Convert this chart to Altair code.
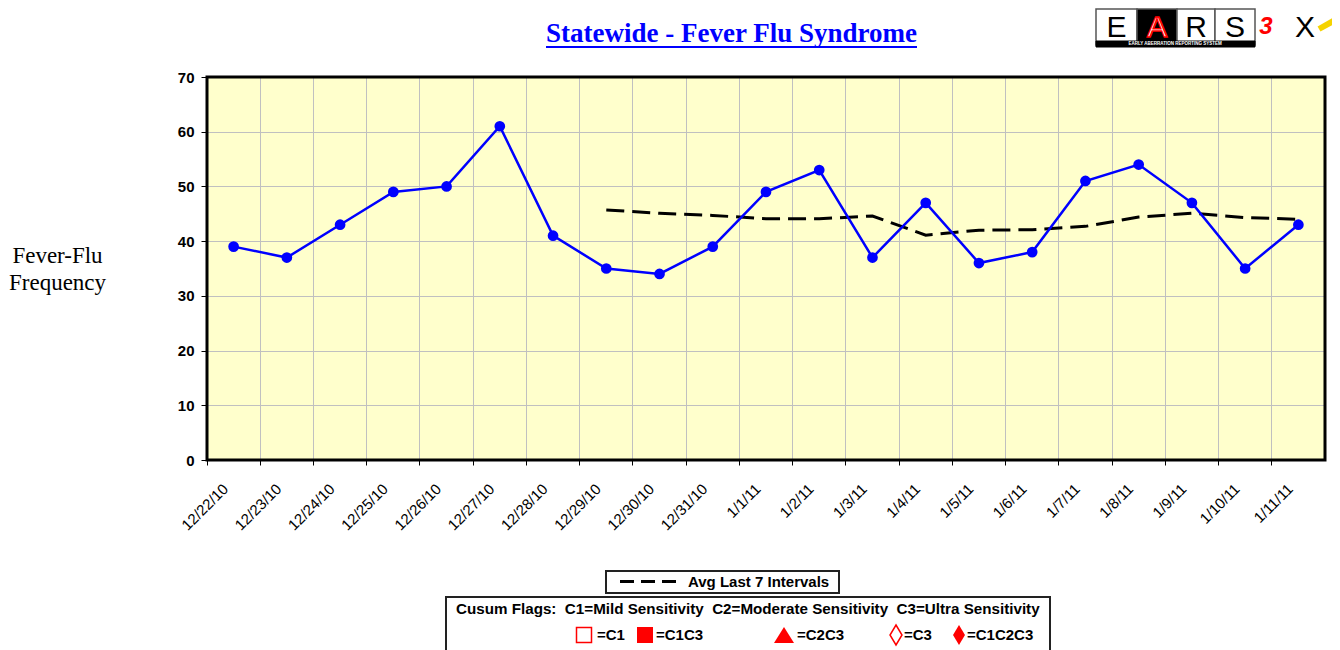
import altair as alt
import pandas as pd

# ---------------- data ----------------
dates = ["12/22/10", "12/23/10", "12/24/10", "12/25/10", "12/26/10", "12/27/10",
         "12/28/10", "12/29/10", "12/30/10", "12/31/10", "1/1/11", "1/2/11",
         "1/3/11", "1/4/11", "1/5/11", "1/6/11", "1/7/11", "1/8/11", "1/9/11",
         "1/10/11", "1/11/11"]
counts = [39, 37, 43, 49, 50, 61, 41, 35, 34, 39, 49, 53, 37, 47, 36, 38, 51, 54, 47, 35, 43]
avg_last7 = [None, None, None, None, None, None, None,
             45.7, 45.1, 44.7, 44.1, 44.1, 44.6, 41.1, 42.0, 42.1, 42.7, 44.4, 45.1, 44.3, 44.0]
y_ticks = [0, 10, 20, 30, 40, 50, 60, 70]

NB = "\u00a0"
title_text = "Statewide - Fever Flu Syndrome"
y_title = ["Fever-Flu", "Frequency"]
legend_line_text = "Avg Last 7 Intervals"
cusum_text = ("Cusum Flags:" + NB + NB + "C1=Mild Sensitivity" + NB + NB +
              "C2=Moderate Sensitivity" + NB + NB + "C3=Ultra Sensitivity")
flag_labels = ["=C1", "=C1C3", "=C2C3", "=C3", "=C1C2C3"]

df = pd.DataFrame({"date": dates, "count": counts})
df_avg = pd.DataFrame({"date": dates, "avg": avg_last7}).dropna()

W, H = 1118, 383
SANS = "Liberation Sans"
SERIF = "Liberation Serif"

x_axis = alt.Axis(
    bandPosition=0, grid=True, gridColor="#c0c0c0", gridWidth=1,
    ticks=True, tickColor="black", tickSize=5, tickWidth=1, domain=False,
    labelAngle=-45, labelAlign="right", labelBaseline="middle",
    labelOffset=-8, labelPadding=21, labelFont=SANS, labelFontSize=15,
    labelColor="black", title=None, labelOverlap=False,
)
x_scale = alt.Scale(type="band", paddingInner=0, paddingOuter=0)

y_axis = alt.Axis(
    values=y_ticks, grid=True, gridColor="#c0c0c0", gridWidth=1,
    ticks=True, tickColor="black", tickSize=6, tickWidth=1, domain=False,
    labelFont=SANS, labelFontSize=15, labelFontWeight="bold", labelColor="black",
    labelPadding=7,
    title=y_title, titleAngle=0, titleX=-150, titleY=185, titleAlign="center",
    titleBaseline="alphabetic", titleFont=SERIF, titleFontSize=23,
    titleFontWeight="normal", titleColor="black", titleLineHeight=27,
)
y_scale = alt.Scale(domain=[0, 70], nice=False, zero=True)

X = alt.X("date:O", sort=dates, scale=x_scale, axis=x_axis)

one = alt.Data(values=[{"k": 0}])


def txt(text, x, y, size=15, weight="bold", color="black", align="left",
        font=SANS, baseline="middle", **kw):
    return alt.Chart(one).mark_text(
        text=text, fontSize=size, fontWeight=weight, color=color, align=align,
        baseline=baseline, font=font, **kw
    ).encode(x=alt.value(x), y=alt.value(y))


def box(x1, x2, y1, y2, fill="white", stroke="black", sw=2, fo=1):
    return alt.Chart(one).mark_rect(
        fill=fill, stroke=stroke, strokeWidth=sw, fillOpacity=fo
    ).encode(x=alt.value(x1), x2=alt.value(x2), y=alt.value(y1), y2=alt.value(y2))


def hline(x1, x2, y, color="black", sw=2, dash=None, y2=None):
    kw = dict(color=color, strokeWidth=sw)
    if dash:
        kw["strokeDash"] = dash
    enc = dict(x=alt.value(x1), x2=alt.value(x2), y=alt.value(y))
    if y2 is not None:
        enc["y2"] = alt.value(y2)
    return alt.Chart(one).mark_rule(**kw).encode(**enc)


def sym(shape, x, y, size, filled, color="red", sw=1.5):
    return alt.Chart(one).mark_point(
        shape=shape, size=size, filled=filled, color=color, strokeWidth=sw, opacity=1
    ).encode(x=alt.value(x), y=alt.value(y))


# ---------------- main series ----------------
count_line = alt.Chart(df).mark_line(color="#0000FF", strokeWidth=2.5).encode(
    x=X, y=alt.Y("count:Q", scale=y_scale, axis=y_axis)
)
count_pts = alt.Chart(df).mark_point(
    filled=True, color="#0000FF", size=115, opacity=1, shape="circle"
).encode(x=X, y=alt.Y("count:Q", scale=y_scale, axis=y_axis))
avg_line = alt.Chart(df_avg).mark_line(
    color="black", strokeWidth=3, strokeDash=[18, 8]
).encode(x=X, y=alt.Y("avg:Q", scale=y_scale, axis=y_axis))

border = box(0, W, 0, H, fill="white", stroke="black", sw=3, fo=0)

# ---------------- title ----------------
title = txt(title_text, 524.5, -35, size=27, color="#0000FF", align="center",
            font=SERIF, baseline="alphabetic")
title_ul = hline(339, 710, -30, color="#0000FF", sw=2)

# ---------------- logo ----------------
logo = [
    box(889, 930, -68, -32, fill="white", stroke="#555555", sw=1.5),
    box(930, 970, -68, -32, fill="black", stroke="#555555", sw=1.5),
    box(970, 1008, -68, -32, fill="white", stroke="#555555", sw=1.5),
    box(1008, 1048, -68, -32, fill="white", stroke="#555555", sw=1.5),
    box(889, 1048, -36, -30, fill="black", stroke="black", sw=1),
    txt("E", 909.5, -40, size=30, weight="normal", align="center", baseline="alphabetic"),
    txt("A", 950, -40, size=30, weight="normal", color="white", align="center",
        baseline="alphabetic", stroke="red", strokeWidth=1.5),
    txt("R", 989, -40, size=30, weight="normal", align="center", baseline="alphabetic"),
    txt("S", 1028, -40, size=30, weight="normal", align="center", baseline="alphabetic"),
    txt("EARLY ABERRATION REPORTING SYSTEM", 968, -33, size=4.5, weight="bold",
        color="white", align="center"),
    txt("3", 1059, -50, size=24, weight="bold", color="red", align="center",
        fontStyle="italic"),
    txt("X", 1098, -40, size=30, weight="normal", align="center", baseline="alphabetic"),
    hline(1112, 1130, -48, color="#f5d300", sw=6, y2=-58),
]

# ---------------- legends ----------------
legend = [
    box(399, 632, 494, 516, fill="white", stroke="#222222", sw=2),
    hline(413, 470, 504.5, color="black", sw=3, dash=[14, 7]),
    txt(legend_line_text, 481, 505),
    box(239, 843, 520, 590, fill="white", stroke="#222222", sw=2),
    txt(cusum_text, 249, 532, size=15.2),
    sym("square", 377, 558, 225, False, sw=1.5),
    txt(flag_labels[0], 390, 558),
    sym("square", 438, 558, 256, True),
    txt(flag_labels[1], 449, 558),
    sym("M0,-0.8L1,0.8L-1,0.8Z", 577, 558, 400, True),
    txt(flag_labels[2], 590, 558),
    sym("M0,-1L0.6,0L0,1L-0.6,0Z", 689, 558, 400, False, sw=1.5),
    txt(flag_labels[3], 697, 558),
    sym("M0,-1L0.6,0L0,1L-0.6,0Z", 752, 558, 400, True),
    txt(flag_labels[4], 760, 558),
]

chart = alt.layer(
    border, avg_line, count_line, count_pts, title, title_ul, *logo, *legend
).properties(
    width=W, height=H,
    autosize=alt.AutoSizeParams(type="none"),
    padding={"left": 199, "top": 69, "right": 7, "bottom": 195},
).configure_view(fill="#FFFFCC", stroke=None)

chart.save("out.html", embed_options={"renderer": "svg", "actions": False})
